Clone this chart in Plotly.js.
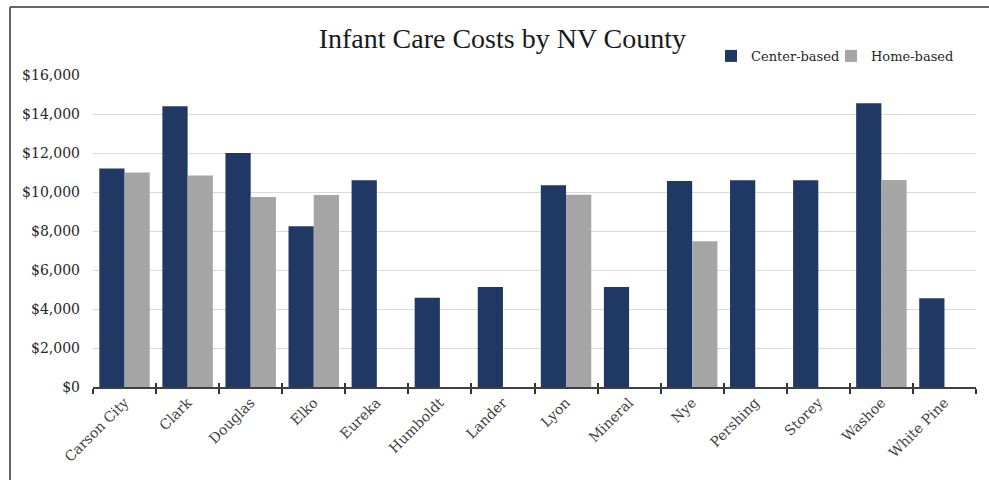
<!DOCTYPE html>
<html>
<head>
<meta charset="utf-8">
<script src="https://cdn.plot.ly/plotly-3.0.1.min.js"></script>
<style>html,body{margin:0;padding:0;background:#fff;}#chart{width:989px;height:480px;}</style>
</head>
<body>
<div id="chart"></div>
<script>
const counties = ["Carson City","Clark","Douglas","Elko","Eureka","Humboldt","Lander","Lyon","Mineral","Nye","Pershing","Storey","Washoe","White Pine"];
const centerBased = [11200, 14400, 12000, 8250, 10600, 4575, 5130, 10350, 5130, 10560, 10600, 10600, 14550, 4550];
const homeBased = [11000, 10850, 9750, 9850, null, null, null, 9860, null, 7480, null, null, 10620, null];
const yTicks = [0, 2000, 4000, 6000, 8000, 10000, 12000, 14000, 16000];

const serif = "DejaVu Serif, serif";
const traces = [
  {type: "bar", name: "Center-based", x: counties, y: centerBased, marker: {color: "#203864"}, legend: "legend"},
  {type: "bar", name: "Home-based", x: counties, y: homeBased, marker: {color: "#a5a5a5"}, legend: "legend2"},
  {type: "bar", name: "ticks", x: counties, y: centerBased, xaxis: "x2", showlegend: false,
   marker: {color: "rgba(0,0,0,0)"}, hoverinfo: "skip"}
];
const legendFont = {family: serif, size: 13, color: "#262626"};
const layout = {
  width: 989, height: 480,
  margin: {l: 93, r: 13, t: 75, b: 93},
  paper_bgcolor: "#fff", plot_bgcolor: "#fff",
  barmode: "group", bargap: 0.2, bargroupgap: 0,
  title: {text: "Infant Care Costs by NV County", xref: "container", x: 0.508, xanchor: "center",
          yref: "container", y: 0.92, yanchor: "middle",
          font: {family: "Liberation Serif, serif", size: 28, color: "#1a1a1a"}},
  showlegend: true,
  legend: {orientation: "h", x: 0.6999, xanchor: "left", y: 1.061, yanchor: "middle",
           font: legendFont, bgcolor: "rgba(0,0,0,0)", itemwidth: 30},
  legend2: {orientation: "h", x: 0.8358, xanchor: "left", y: 1.061, yanchor: "middle",
           font: legendFont, bgcolor: "rgba(0,0,0,0)", itemwidth: 30},
  xaxis: {type: "category", categoryorder: "array", categoryarray: counties,
          tickangle: -45, tickson: "boundaries", ticks: "outside", ticklen: 5, tickwidth: 2, tickcolor: "#333",
          showline: true, linecolor: "#404040", linewidth: 2, showgrid: false,
          tickfont: {family: serif, size: 14, color: "#404040"}},
  xaxis2: {type: "category", categoryorder: "array", categoryarray: counties, overlaying: "x", matches: "x",
           anchor: "y", side: "bottom", tickson: "boundaries", ticks: "inside", ticklen: 4, tickwidth: 2,
           tickcolor: "#333", showticklabels: false, showline: false, showgrid: false},
  yaxis: {range: [0, 16000], tickvals: yTicks, tickformat: "$,.0f", showgrid: true, gridcolor: "#d9d9d9", gridwidth: 1,
          zeroline: false, showline: false, ticks: "", ticklabelstandoff: 12,
          tickfont: {family: serif, size: 14, color: "#262626"}},
  shapes: [
    {type: "line", xref: "paper", yref: "paper", x0: -0.094, x1: 1.02, y0: 1.218, y1: 1.218, line: {color: "#666", width: 2}},
    {type: "line", xref: "paper", yref: "paper", x0: -0.094, x1: -0.094, y0: 1.218, y1: -0.31, line: {color: "#666", width: 2}}
  ]
};
Plotly.newPlot("chart", traces, layout, {displayModeBar: false, staticPlot: true});
</script>
</body>
</html>
